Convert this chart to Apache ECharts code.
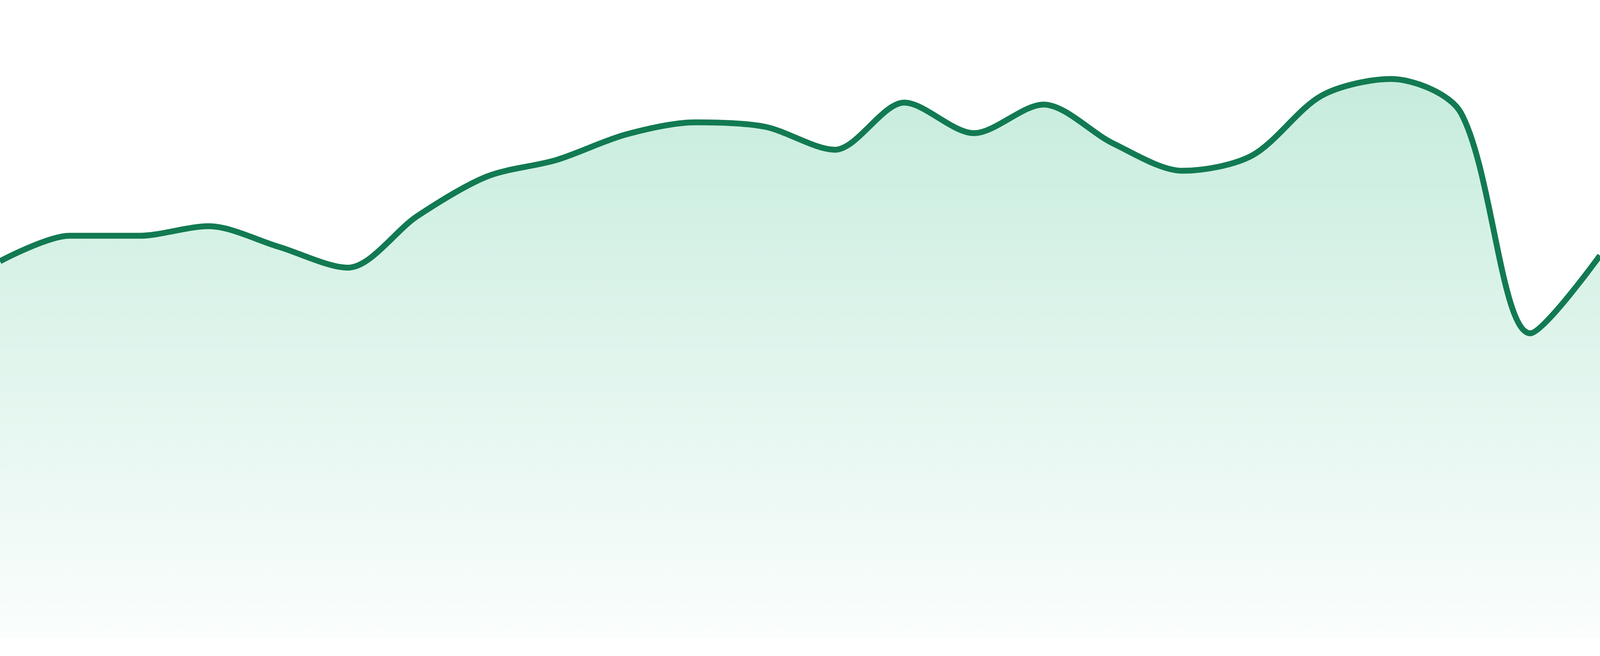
<!DOCTYPE html>
<html>
<head>
<meta charset="utf-8">
<title>area</title>
<script src="https://cdn.jsdelivr.net/npm/echarts@6/dist/echarts.min.js"></script>
<style>
    html,body{margin:0;padding:0;width:100%;height:100%;overflow:hidden;background:#fff;}
    #chartview{width:100%;height:100%;}
</style>
</head>
<body>
<div id="chartview"></div>
<script>
// x 轴的点（图上无标签，只按序号）
var dates=['1','2','3','4','5','6','7','8','9','10','11','12','13','14','15','16','17','18','19','20','21','22','23','24'];
// 曲线的数值
var values=[59.0,63.0,63.0,64.5,61.3,58.0,66.1,72.3,74.9,78.9,80.8,80.1,76.5,83.9,79.1,83.6,77.5,73.2,75.6,85.0,87.6,82.3,47.7,59.9];

var lineColor='#127a52';

var myChart=echarts.init(document.getElementById('chartview'));

var option={
    animation:false,
    grid:{
        left:0,
        right:0,
        top:0,
        bottom:'2.86%',
    },
    xAxis:{
        type:'category',
        boundaryGap:false,
        data:dates,
        show:false,
    },
    yAxis:{
        type:'value',
        min:0,
        max:100,
        show:false,
    },
    series:[
        {
            name:'value',
            type:'line',
            smooth:0.3,//陡降处不要出现S形
            symbol:'none',
            lineStyle:{
                width:15,
                color:lineColor,
            },
            itemStyle:{
                color:lineColor,
            },
            areaStyle:{
                color:new echarts.graphic.LinearGradient(0,0,0,1,[
                    {offset:0,color:'rgba(52,187,134,0.40)'},
                    {offset:1,color:'rgba(52,187,134,0.03)'},
                ]),
            },
            data:values,
        }
    ]
};

myChart.setOption(option);
window.addEventListener('resize',function(){
    myChart.resize();
});
</script>
</body>
</html>
